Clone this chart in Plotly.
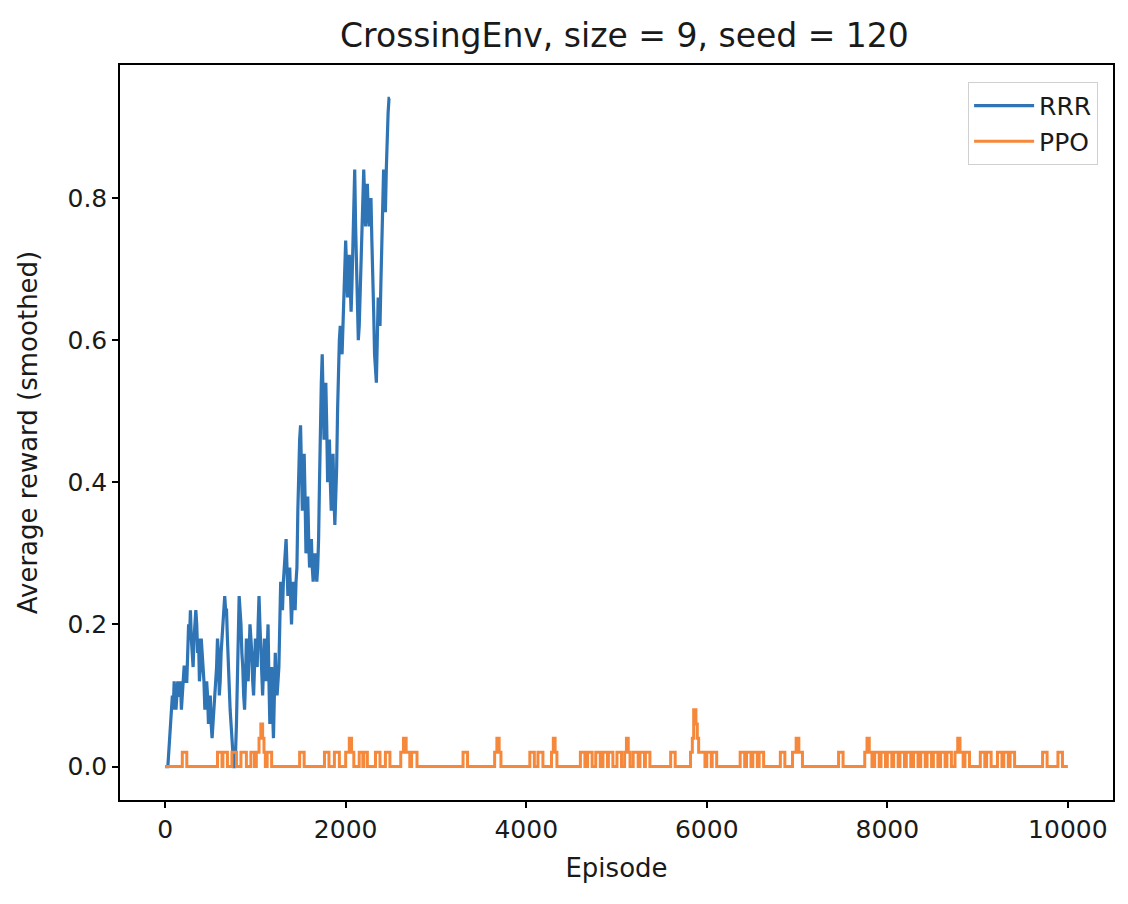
import plotly.graph_objects as go

# ---- data ----
rrr_episodes = list(range(0, 2500, 10))
rrr_reward = [
    0.00, 0.00, 0.00, 0.00, 0.02, 0.04, 0.06, 0.08, 0.10, 0.08,
    0.12, 0.10, 0.08, 0.10, 0.12, 0.10, 0.10, 0.12, 0.08, 0.10,
    0.12, 0.14, 0.14, 0.12, 0.12, 0.16, 0.20, 0.18, 0.22, 0.18,
    0.16, 0.14, 0.18, 0.20, 0.22, 0.20, 0.16, 0.18, 0.12, 0.14,
    0.18, 0.16, 0.14, 0.12, 0.08, 0.10, 0.12, 0.10, 0.06, 0.08,
    0.10, 0.06, 0.04, 0.06, 0.08, 0.10, 0.12, 0.14, 0.18, 0.16,
    0.10, 0.12, 0.16, 0.18, 0.20, 0.22, 0.24, 0.22, 0.22, 0.18,
    0.14, 0.12, 0.08, 0.06, 0.04, 0.02, 0.00, 0.00, 0.02, 0.06,
    0.12, 0.18, 0.24, 0.22, 0.20, 0.16, 0.14, 0.10, 0.08, 0.12,
    0.18, 0.14, 0.12, 0.16, 0.20, 0.18, 0.16, 0.12, 0.10, 0.14,
    0.18, 0.16, 0.14, 0.20, 0.24, 0.20, 0.16, 0.12, 0.10, 0.14,
    0.18, 0.16, 0.12, 0.16, 0.20, 0.12, 0.06, 0.10, 0.14, 0.08,
    0.04, 0.10, 0.16, 0.12, 0.10, 0.12, 0.14, 0.20, 0.26, 0.24,
    0.22, 0.26, 0.28, 0.30, 0.32, 0.28, 0.24, 0.26, 0.28, 0.24,
    0.20, 0.24, 0.26, 0.24, 0.22, 0.26, 0.28, 0.36, 0.44, 0.46,
    0.48, 0.42, 0.36, 0.40, 0.44, 0.38, 0.30, 0.34, 0.38, 0.32,
    0.28, 0.30, 0.32, 0.28, 0.26, 0.28, 0.30, 0.28, 0.26, 0.28,
    0.32, 0.40, 0.50, 0.54, 0.58, 0.52, 0.46, 0.50, 0.54, 0.48,
    0.40, 0.44, 0.46, 0.40, 0.36, 0.40, 0.44, 0.38, 0.34, 0.38,
    0.42, 0.50, 0.56, 0.60, 0.62, 0.60, 0.58, 0.62, 0.66, 0.70,
    0.74, 0.70, 0.66, 0.70, 0.72, 0.68, 0.64, 0.68, 0.74, 0.78,
    0.84, 0.76, 0.70, 0.64, 0.60, 0.62, 0.66, 0.70, 0.74, 0.80,
    0.84, 0.80, 0.76, 0.80, 0.82, 0.78, 0.76, 0.78, 0.80, 0.74,
    0.70, 0.64, 0.58, 0.56, 0.54, 0.60, 0.66, 0.64, 0.62, 0.68,
    0.74, 0.80, 0.84, 0.80, 0.78, 0.84, 0.90, 0.92, 0.94, 0.94,
]

ppo_episodes = [
    0, 190, 240, 580, 630, 640, 690, 740, 790, 840, 900, 950, 990,
    1010, 1040, 1060, 1080, 1095, 1110, 1130, 1180, 1490, 1540,
    1765, 1815, 1875, 1930, 2000, 2040, 2065, 2090, 2150, 2190, 2200, 2240,
    2330, 2380, 2440, 2490, 2610, 2640, 2670, 2710, 2730, 2790,
    3300, 3350, 3650, 3675, 3700, 3720, 4040, 4090, 4130, 4185,
    4280, 4300, 4320, 4340, 4600, 4650, 4680, 4730, 4770, 4820,
    4850, 4900, 4910, 4960, 5005, 5055, 5090, 5110, 5130, 5150,
    5185, 5240, 5260, 5310, 5320, 5370, 5600, 5650,
    5820, 5840, 5855, 5880, 5895, 5910, 5980, 6000, 6050, 6060, 6110,
    6370, 6420, 6440, 6490, 6510, 6560, 6580, 6630, 6815, 6865,
    6950, 6990, 7020, 7060, 7460, 7510, 7750, 7775, 7800, 7830,
    7860, 7910, 7930, 7980, 8000, 8050, 8070, 8120, 8140, 8190,
    8210, 8260, 8290, 8340, 8370, 8420, 8440, 8490, 8510, 8560,
    8590, 8640, 8660, 8710, 8750, 8780, 8805, 8840, 8860, 8910,
    9030, 9080, 9100, 9150, 9220, 9270, 9290, 9340, 9360, 9410,
    9720, 9770, 9890, 9940, 10000,
]
ppo_reward = [
    0.0, 0.02, 0.0, 0.02, 0.0, 0.02, 0.0, 0.02, 0.0, 0.02, 0.0, 0.02, 0.0,
    0.02, 0.04, 0.06, 0.04, 0.02, 0.0, 0.02, 0.0, 0.02, 0.0,
    0.02, 0.0, 0.02, 0.0, 0.02, 0.04, 0.02, 0.0, 0.02, 0.0, 0.02, 0.0,
    0.02, 0.0, 0.02, 0.0, 0.02, 0.04, 0.02, 0.0, 0.02, 0.0,
    0.02, 0.0, 0.02, 0.04, 0.02, 0.0, 0.02, 0.0, 0.02, 0.0,
    0.02, 0.04, 0.02, 0.0, 0.02, 0.0, 0.02, 0.0, 0.02, 0.0,
    0.02, 0.0, 0.02, 0.0, 0.02, 0.0, 0.02, 0.04, 0.02, 0.0,
    0.02, 0.0, 0.02, 0.0, 0.02, 0.0, 0.02, 0.0,
    0.02, 0.04, 0.08, 0.06, 0.04, 0.02, 0.0, 0.02, 0.0, 0.02, 0.0,
    0.02, 0.0, 0.02, 0.0, 0.02, 0.0, 0.02, 0.0, 0.02, 0.0,
    0.02, 0.04, 0.02, 0.0, 0.02, 0.0, 0.02, 0.04, 0.02, 0.0,
    0.02, 0.0, 0.02, 0.0, 0.02, 0.0, 0.02, 0.0, 0.02, 0.0,
    0.02, 0.0, 0.02, 0.0, 0.02, 0.0, 0.02, 0.0, 0.02, 0.0,
    0.02, 0.0, 0.02, 0.0, 0.02, 0.04, 0.02, 0.0, 0.02, 0.0,
    0.02, 0.0, 0.02, 0.0, 0.02, 0.0, 0.02, 0.0, 0.02, 0.0,
    0.02, 0.0, 0.02, 0.0, 0.0,
]

x_ticks = [0, 2000, 4000, 6000, 8000, 10000]
x_tick_labels = ["0", "2000", "4000", "6000", "8000", "10000"]
y_ticks = [0.0, 0.2, 0.4, 0.6, 0.8]
y_tick_labels = ["0.0", "0.2", "0.4", "0.6", "0.8"]

FONT = "DejaVu Sans"

fig = go.Figure()
fig.add_trace(go.Scatter(
    x=rrr_episodes, y=rrr_reward, mode="lines", name="RRR",
    line=dict(color="#2f74b5", width=3.2),
))
fig.add_trace(go.Scatter(
    x=ppo_episodes, y=ppo_reward, mode="lines", name="PPO",
    line=dict(color="#f5883a", width=3, shape="hv"),
))

axis_common = dict(
    showgrid=False, zeroline=False, showline=True, linecolor="#000000",
    linewidth=1.5, mirror=True, ticks="outside", ticklen=6, tickwidth=1.5,
    tickcolor="#000000", tickfont=dict(family=FONT, size=25, color="#1a1a1a"),
)

fig.update_layout(
    width=1128, height=904,
    margin=dict(l=112, r=23, t=57, b=112),
    paper_bgcolor="white", plot_bgcolor="white",
    font=dict(family=FONT, color="#1a1a1a"),
    title=dict(
        text="CrossingEnv, size = 9, seed = 120",
        x=0.5465, xanchor="center", y=1 - 27 / 904, yanchor="middle",
        yref="container", font=dict(family=FONT, size=33, color="#1a1a1a"),
    ),
    xaxis=dict(
        range=[-500, 10500], tickvals=x_ticks, ticktext=x_tick_labels,
        title=dict(text="Episode", font=dict(family=FONT, size=26), standoff=16),
        **axis_common,
    ),
    yaxis=dict(
        range=[-0.047, 0.987], tickvals=y_ticks, ticktext=y_tick_labels,
        title=dict(text="Average reward (smoothed)", font=dict(family=FONT, size=26), standoff=22),
        **axis_common,
    ),
    legend=dict(
        x=0.985, y=0.977, xanchor="right", yanchor="top",
        bgcolor="rgba(255,255,255,0.8)", bordercolor="#d0d0d0", borderwidth=1,
        font=dict(family=FONT, size=25, color="#1a1a1a"),
        itemwidth=60, tracegroupgap=2,
    ),
    showlegend=True,
)

fig.write_html("out.html")
